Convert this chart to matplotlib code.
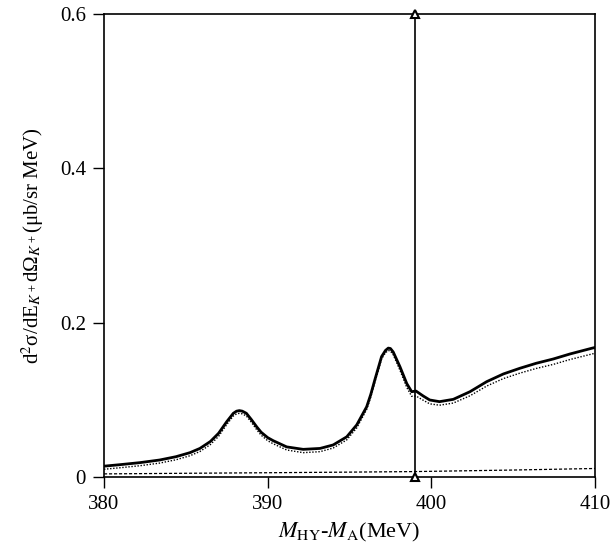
import numpy as np
import matplotlib.pyplot as plt

plt.rcParams['font.family'] = ['Liberation Serif', 'DejaVu Serif']
plt.rcParams['mathtext.fontset'] = 'stix'

# full calculation (solid)
solid_x = [380.0, 381.0, 382.2, 383.4, 384.4, 385.25, 385.86, 386.5, 387.0, 387.5,
           387.9, 388.1, 388.27, 388.45, 388.7, 389.0, 389.33, 389.6, 390.0, 390.34,
           391.16, 392.17, 393.2, 394.0, 394.83, 395.44, 396.05, 396.3, 396.55, 396.96, 397.2,
           397.37, 397.5, 397.67, 398.08, 398.5, 398.8, 399.06, 399.5, 399.9, 400.5,
           401.34, 402.36, 403.38, 404.4, 405.4, 406.4, 407.45, 408.47, 409.8, 410.0]
solid_y = [0.0140, 0.0160, 0.0186, 0.0220, 0.0263, 0.0315, 0.0370, 0.0460, 0.0566, 0.0717,
           0.0825, 0.0853, 0.0860, 0.0853, 0.0825, 0.0745, 0.0650, 0.0580, 0.0510, 0.0470,
           0.0390, 0.0358, 0.0370, 0.0415, 0.0520, 0.0674, 0.0910, 0.1070, 0.1260, 0.1560, 0.1640,
           0.1670, 0.1665, 0.1620, 0.1430, 0.1210, 0.1105, 0.1114, 0.1050, 0.0998, 0.0976,
           0.1006, 0.1105, 0.1235, 0.1335, 0.1408, 0.1473, 0.1529, 0.1594, 0.1668, 0.1678]

# dotted component
dot_y = [0.0100, 0.0120, 0.0146, 0.0180, 0.0223, 0.0275, 0.0330, 0.0420, 0.0526, 0.0680,
         0.0790, 0.0818, 0.0825, 0.0818, 0.0790, 0.0710, 0.0612, 0.0542, 0.0470, 0.0430,
         0.0350, 0.0315, 0.0328, 0.0375, 0.0480, 0.0635, 0.0875, 0.1035, 0.1228, 0.1530, 0.1610,
         0.1640, 0.1632, 0.1585, 0.1385, 0.1160, 0.1045, 0.1050, 0.0995, 0.0948, 0.0930,
         0.0958, 0.1052, 0.1178, 0.1275, 0.1345, 0.1406, 0.1459, 0.1522, 0.1593, 0.1603]

# dashed background
dash_x = [380, 385, 390, 395, 399, 402, 405, 408, 410]
dash_y = [0.0040, 0.0048, 0.0055, 0.0063, 0.0070, 0.0080, 0.0090, 0.0102, 0.0110]

threshold = 399.0

fig = plt.figure(figsize=(6.1, 5.48), dpi=100)
ax = fig.add_axes([0.1705, 0.1296, 0.8049, 0.8449])

ax.plot(solid_x, solid_y, color='black', lw=2.0, solid_joinstyle='round')
ax.plot(solid_x, dot_y, color='black', lw=1.0, ls=(0, (1, 1.2)))
ax.plot(dash_x, dash_y, color='black', lw=0.9, ls=(0, (2.5, 1.5)))

ax.plot([threshold, threshold], [0, 0.6], color='black', lw=1.2)
ax.plot([threshold, threshold], [0, 0.6], ls='none', marker='^', ms=6,
        mfc='white', mec='black', mew=1.5, clip_on=False, zorder=5)

ax.set_xlim(380, 410)
ax.set_ylim(0, 0.6)
ax.set_xticks([380, 390, 400, 410])
ax.set_yticks([0, 0.2, 0.4, 0.6])
ax.set_yticklabels(['0', '0.2', '0.4', '0.6'])
ax.tick_params(direction='out', length=8, width=1, labelsize=15, pad=5,
               top=False, right=False)
for s in ax.spines.values():
    s.set_linewidth(1.2)

ax.set_xlabel(r'$M_{\rm HY}$-$M_{\rm A}$(MeV)', fontsize=16, labelpad=5)
ax.set_ylabel(r'd$^2$σ/dE$_{K^+}$dΩ$_{K^+}$(μb/sr MeV)', fontsize=15, labelpad=10)

fig.savefig('out.png', dpi=100)
